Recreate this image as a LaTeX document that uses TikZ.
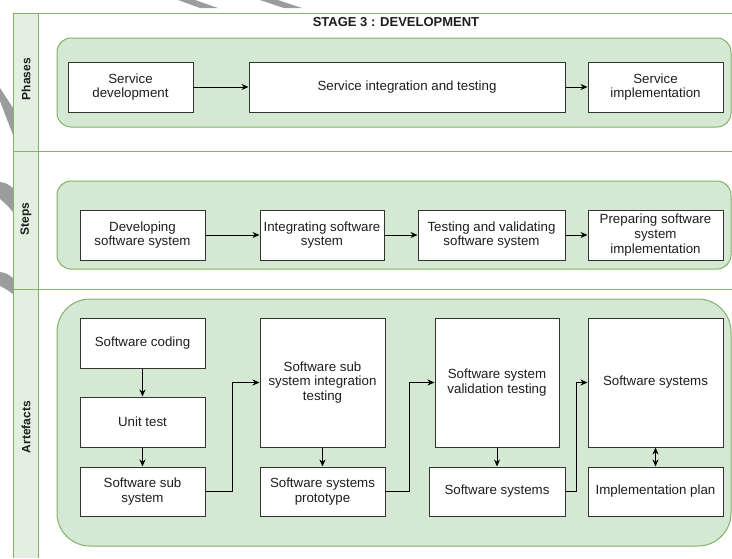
\documentclass[tikz,border=0pt]{standalone}
\usepackage{fontspec}
\setmainfont{Liberation Sans}
\usetikzlibrary{arrows.meta}
\definecolor{lanefill}{HTML}{D5E8D4}
\definecolor{laneline}{HTML}{82B366}
\definecolor{headfill}{HTML}{E2EFE1}
\definecolor{boxline}{HTML}{333333}
\definecolor{txt}{HTML}{1E1E1E}
\definecolor{stripegrey}{HTML}{9C9C9C}
\tikzset{
  box/.style={draw=boxline, fill=white, line width=1pt, inner sep=0pt, align=center,
    text=txt, font=\fontsize{13.3}{14.6}\selectfont},
  group/.style={draw=laneline, fill=lanefill, line width=1pt},
  poolline/.style={draw=laneline, line width=1pt},
  lanelabel/.style={rotate=90, font=\bfseries\fontsize{12}{14}\selectfont, text=txt},
  flow/.style={draw=black, line width=1pt, -{Stealth[length=7pt,width=6pt]}},
  both/.style={draw=black, line width=1pt, {Stealth[length=7pt,width=6pt]}-{Stealth[length=7pt,width=6pt]}},
}
\begin{document}
\begin{tikzpicture}[x=1pt, y=-1pt]
\useasboundingbox (0,0) rectangle (732,558);
\fill[white] (0,0) rectangle (732,558);

% grey strokes around the edges
\fill[stripegrey] (178,0) -- (195,0) -- (218,8) -- (200,8) -- cycle;
\fill[stripegrey] (260,0) -- (278,0) -- (302,8) -- (284,8) -- cycle;
\fill[stripegrey] (0,88) -- (13,108) -- (13,135) -- (0,101) -- cycle;
\fill[stripegrey] (0,182) .. controls (6,183) .. (13,188) -- (13,212) .. controls (6,204) .. (0,199) -- cycle;
\fill[stripegrey] (0,272) .. controls (6,273) .. (13,278) -- (13,294) .. controls (6,289) .. (0,286) -- cycle;

% pool with three lanes
\fill[headfill] (13,13) rectangle (38,558);
\draw[poolline] (13,558) -- (13,13) -- (732,13);
\draw[poolline] (38,13) -- (38,558);
\draw[poolline] (13,151) -- (732,151);
\draw[poolline] (13,289) -- (732,289);

\node[lanelabel] (lp) at (26,79) {Phases};
\node[lanelabel] (ls) at (26,219) {Steps};
\node[lanelabel] (la) at (26,427) {Artefacts};

\node[font=\bfseries\fontsize{13}{15}\selectfont, text=txt] (title) at (396,22) {STAGE 3 : DEVELOPMENT};

% group backgrounds
\draw[group, rounded corners=14pt] (57,38) rectangle (731,127);
\draw[group, rounded corners=14pt] (57,181) rectangle (731,269);
\draw[group, rounded corners=33pt] (57,299) rectangle (731,546);

% phases
\node[box, minimum width=125pt, minimum height=50pt] (pd) at (130.5,87) {Service\\development};
\node[box, minimum width=316pt, minimum height=50pt] (pit) at (407,87) {Service integration and testing};
\node[box, minimum width=135pt, minimum height=50pt] (pim) at (655.5,87) {Service\\implementation};
\draw[flow] (pd) -- (pit);
\draw[flow] (pit) -- (pim);

% steps
\node[box, minimum width=125pt, minimum height=50pt] (s1) at (142.5,235) {Developing\\software system};
\node[box, minimum width=124pt, minimum height=50pt] (s2) at (322,235) {Integrating software\\system};
\node[box, minimum width=147pt, minimum height=50pt] (s3) at (491.5,235) {Testing and validating\\software system};
\node[box, minimum width=135pt, minimum height=50pt] (s4) at (655.5,235) {Preparing software\\system\\implementation};
\draw[flow] (s1) -- (s2);
\draw[flow] (s2) -- (s3);
\draw[flow] (s3) -- (s4);

% artefacts
\node[box, minimum width=125pt, minimum height=50pt] (a1) at (142.5,343) {Software coding};
\node[box, minimum width=125pt, minimum height=50pt] (a2) at (142.5,422) {Unit test};
\node[box, minimum width=125pt, minimum height=49pt] (a3) at (142.5,491.5) {Software sub\\system};
\node[box, minimum width=125pt, minimum height=129pt] (a4) at (322.5,382.5) {Software sub\\system integration\\testing};
\node[box, minimum width=125pt, minimum height=49pt] (a5) at (322.5,491.5) {Software systems\\prototype};
\node[box, minimum width=124pt, minimum height=129pt] (a6) at (497,382.5) {Software system\\validation testing};
\node[box, minimum width=136pt, minimum height=49pt] (a7) at (497,491.5) {Software systems};
\node[box, minimum width=135pt, minimum height=129pt] (a8) at (655.5,382.5) {Software systems};
\node[box, minimum width=135pt, minimum height=49pt] (a9) at (655.5,491.5) {Implementation plan};

\draw[flow] (a1) -- (a2);
\draw[flow] (a2) -- (a3);
\draw[flow] (a4) -- (a5);
\draw[flow] (a6) -- (a7);
\draw[both] (a8) -- (a9);
\draw[flow] (a3.east) -- ++(27,0) |- (a4.west);
\draw[flow] (a5.east) -- ++(24,0) |- (a6.west);
\draw[flow] (a7.east) -- ++(11,0) |- (a8.west);
\end{tikzpicture}
\end{document}
